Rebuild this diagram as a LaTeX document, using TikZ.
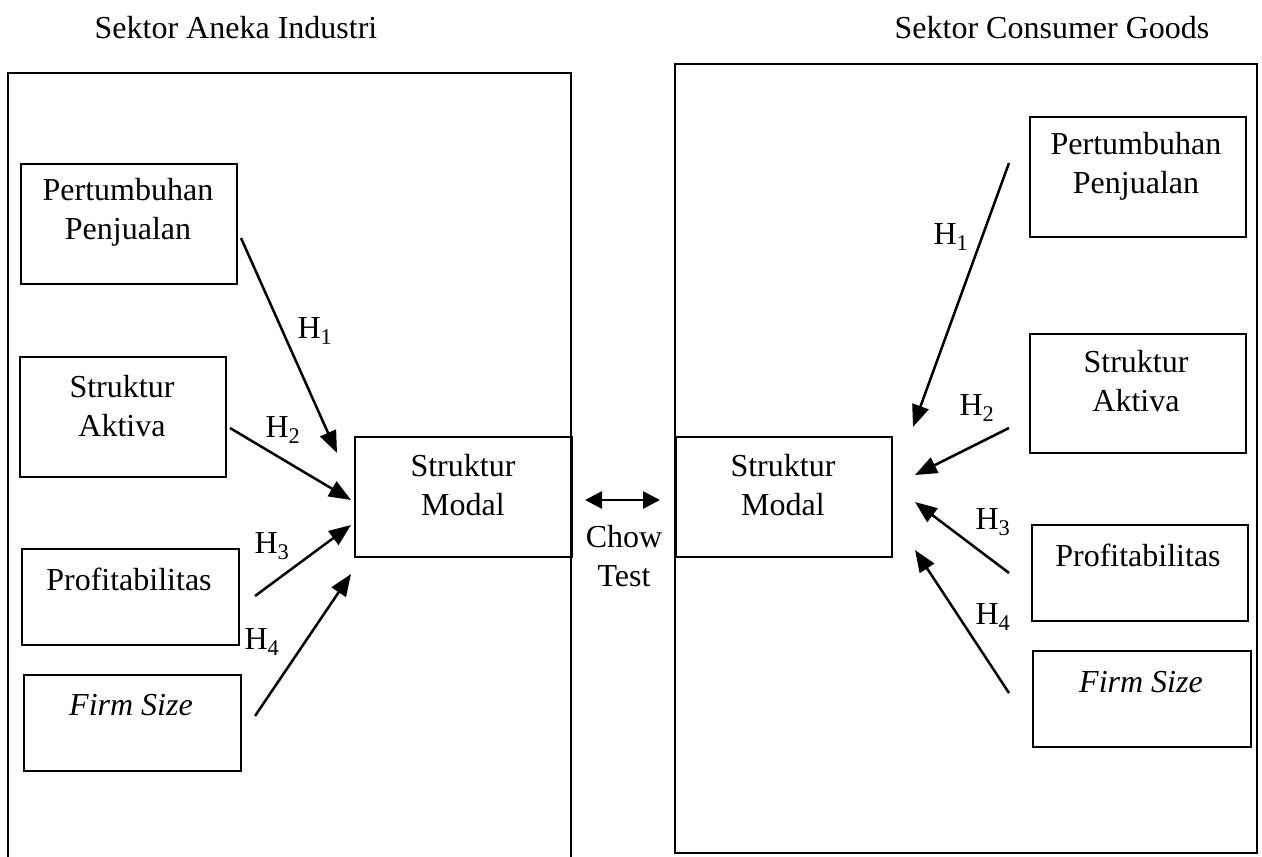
\documentclass[tikz,border=0pt]{standalone}
\usepackage{fontspec}
\setmainfont{Liberation Serif}
\usetikzlibrary{arrows.meta}
\begin{document}
\begin{tikzpicture}[x=1pt,y=-1pt,
  box/.style={draw, line width=2.2pt, inner sep=0pt, anchor=north west},
  txt/.style={font=\fontsize{32}{39}\selectfont, align=center, inner sep=0pt},
  hlab/.style={font=\fontsize{32}{39}\selectfont, inner sep=0pt},
  panel/.style={draw, line width=2.2pt},
  link/.style={line width=2.5pt, -{Triangle[length=22pt,width=17pt]}},
  chow/.style={line width=2.8pt, {Triangle[length=17pt,width=17pt]}-{Triangle[length=17pt,width=17pt]}}]
\useasboundingbox (0,0) rectangle (1262,857);
% panels
\draw[panel] (8,857) -- (8,73) -- (571,73) -- (571,857);
\draw[panel] (675,64) rectangle (1257,853);
% titles
\node[txt] (tl) at (236,28) {Sektor Aneka Industri};
\node[txt] (tr) at (1052,28) {Sektor Consumer Goods};
% left boxes
\node[box, minimum width=216pt, minimum height=120pt] (lpp) at (20,163) {};
\node[txt] (lppt) at (128,212) {Pertumbuhan\\Penjualan};
\node[box, minimum width=206pt, minimum height=120pt] (lsa) at (19,356) {};
\node[txt] (lsat) at (122,406) {Struktur\\Aktiva};
\node[box, minimum width=217pt, minimum height=96pt] (lpr) at (21,548) {};
\node[txt] (lprt) at (129,579) {Profitabilitas};
\node[box, minimum width=217pt, minimum height=96pt] (lfs) at (23,674) {};
\node[txt] (lfst) at (131,705) {\itshape Firm Size};
\node[box, minimum width=217pt, minimum height=120pt] (lsm) at (354,436) {};
\node[txt] (lsmt) at (463,485) {Struktur\\Modal};
% right boxes
\node[box, minimum width=216pt, minimum height=120pt] (rpp) at (1029,116) {};
\node[txt] (rppt) at (1136,166) {Pertumbuhan\\Penjualan};
\node[box, minimum width=216pt, minimum height=119pt] (rsa) at (1029,333) {};
\node[txt] (rsat) at (1136,381) {Struktur\\Aktiva};
\node[box, minimum width=216pt, minimum height=96pt] (rpr) at (1031,524) {};
\node[txt] (rprt) at (1138,555) {Profitabilitas};
\node[box, minimum width=218pt, minimum height=96pt] (rfs) at (1032,650) {};
\node[txt] (rfst) at (1141,682) {\itshape Firm Size};
\node[box, minimum width=216pt, minimum height=120pt] (rsm) at (675,436) {};
\node[txt] (rsmt) at (783,485) {Struktur\\Modal};
% chow
\node[txt] (ct) at (624,556) {Chow\\Test};
\coordinate (ca) at (585,500);
\coordinate (cb) at (660,500);
\draw[chow] (ca) -- (cb);
% left arrows
\coordinate (l1s) at (241,238); \coordinate (l1e) at (337,453);
\coordinate (l2s) at (230,428); \coordinate (l2e) at (351,500);
\coordinate (l3s) at (255,596); \coordinate (l3e) at (351,525);
\coordinate (l4s) at (255,716); \coordinate (l4e) at (351,574);
\draw[link] (l1s) -- (l1e);
\draw[link] (l2s) -- (l2e);
\draw[link] (l3s) -- (l3e);
\draw[link] (l4s) -- (l4e);
\node[hlab] (lh1) at (315,331) {H\textsubscript{1}};
\node[hlab] (lh2) at (283,430) {H\textsubscript{2}};
\node[hlab] (lh3) at (272,546) {H\textsubscript{3}};
\node[hlab] (lh4) at (262,642) {H\textsubscript{4}};
% right arrows
\coordinate (r1s) at (1009,163); \coordinate (r1e) at (913,427);
\coordinate (r2s) at (1009,428); \coordinate (r2e) at (915,475);
\coordinate (r3s) at (1009,573); \coordinate (r3e) at (915,502);
\coordinate (r4s) at (1009,693); \coordinate (r4e) at (915,550);
\draw[link] (r1s) -- (r1e);
\draw[link] (r2s) -- (r2e);
\draw[link] (r3s) -- (r3e);
\draw[link] (r4s) -- (r4e);
\node[hlab] (rh1) at (951,237) {H\textsubscript{1}};
\node[hlab] (rh2) at (977,408) {H\textsubscript{2}};
\node[hlab] (rh3) at (993,522) {H\textsubscript{3}};
\node[hlab] (rh4) at (993,617) {H\textsubscript{4}};
\end{tikzpicture}
\end{document}
